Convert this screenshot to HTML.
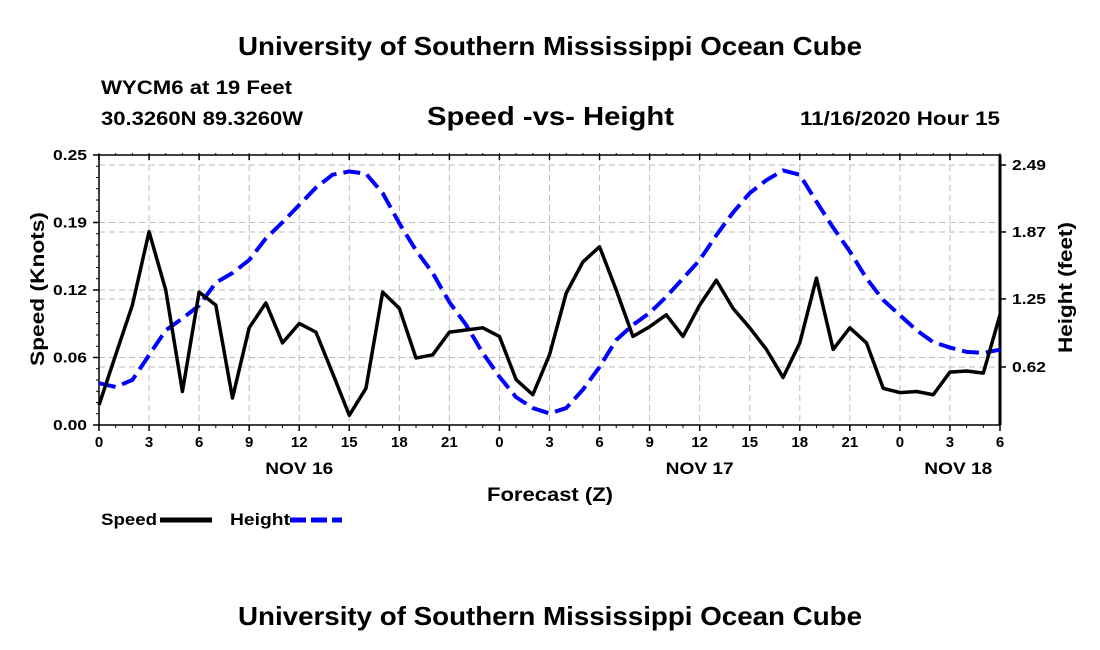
<!DOCTYPE html>
<html><head><meta charset="utf-8"><style>
body{margin:0;background:#fff;}
svg{display:block;font-family:"Liberation Sans",sans-serif;}
</style></head><body>
<svg id="c" width="1100" height="650">
<text x="238" y="55" font-size="26" font-weight="bold" textLength="624" lengthAdjust="spacingAndGlyphs">University of Southern Mississippi Ocean Cube</text>
<text x="101" y="94" font-size="19" font-weight="bold" textLength="191" lengthAdjust="spacingAndGlyphs">WYCM6 at 19 Feet</text>
<text x="101" y="125" font-size="19" font-weight="bold" textLength="202" lengthAdjust="spacingAndGlyphs">30.3260N 89.3260W</text>
<text x="427" y="125" font-size="26" font-weight="bold" textLength="247" lengthAdjust="spacingAndGlyphs">Speed -vs- Height</text>
<text x="800" y="125" font-size="19" font-weight="bold" textLength="200" lengthAdjust="spacingAndGlyphs">11/16/2020 Hour 15</text>
<g id="grid"></g>
<g id="axes"></g>
<g id="series"></g>
<text x="487" y="501" font-size="19" font-weight="bold" textLength="126" lengthAdjust="spacingAndGlyphs">Forecast (Z)</text>
<text transform="translate(44,366) rotate(-90)" font-size="19" font-weight="bold" textLength="154" lengthAdjust="spacingAndGlyphs">Speed (Knots)</text>
<text transform="translate(1072,353) rotate(-90)" font-size="19" font-weight="bold" textLength="131" lengthAdjust="spacingAndGlyphs">Height (feet)</text>
<g>
<text x="101" y="525" font-size="17" font-weight="bold" textLength="56" lengthAdjust="spacingAndGlyphs">Speed</text>
<line x1="160" y1="520" x2="212" y2="520" stroke="#000" stroke-width="5"/>
<text x="230" y="525" font-size="17" font-weight="bold" textLength="60" lengthAdjust="spacingAndGlyphs">Height</text>
<line x1="290" y1="520" x2="342" y2="520" stroke="#00f" stroke-width="5" stroke-dasharray="16,5"/>
</g>
<text x="238" y="625" font-size="26" font-weight="bold" textLength="624" lengthAdjust="spacingAndGlyphs">University of Southern Mississippi Ocean Cube</text>
</svg>
<script>
const speed=[0.0185,0.065,0.111,0.179,0.125,0.031,0.123,0.111,0.025,0.090,0.113,0.076,0.094,0.086,0.048,0.009,0.034,0.123,0.108,0.062,0.065,0.086,0.088,0.090,0.082,0.042,0.028,0.065,0.122,0.151,0.165,0.125,0.082,0.091,0.102,0.082,0.111,0.134,0.108,0.090,0.070,0.044,0.076,0.136,0.070,0.090,0.076,0.034,0.030,0.031,0.028,0.049,0.050,0.048,0.102];
const height=[0.47,0.435,0.50,0.73,0.96,1.07,1.19,1.40,1.49,1.61,1.81,1.96,2.12,2.28,2.40,2.43,2.41,2.23,1.95,1.70,1.49,1.22,1.01,0.75,0.53,0.34,0.24,0.19,0.24,0.41,0.62,0.87,1.01,1.12,1.27,1.44,1.61,1.84,2.05,2.23,2.35,2.44,2.40,2.15,1.91,1.69,1.44,1.24,1.10,0.96,0.85,0.80,0.76,0.75,0.78];
const xTickLabels=["0","3","6","9","12","15","18","21","0","3","6","9","12","15","18","21","0","3","6"];
const dayLabels=["NOV 16","NOV 17","NOV 18"];
const dayHours=[12,36,51.5];
const leftTicks=[0,0.0625,0.125,0.1875,0.25];
const leftTickLabels=["0.00","0.06","0.12","0.19","0.25"];
const rightTicks=[0.62,1.25,1.87,2.49];
const rightTickLabels=["0.62","1.25","1.87","2.49"];
const NS="http://www.w3.org/2000/svg";
const L=99,R=1000,T=155,B=425;
const x=h=>L+(R-L)*h/54;
const yL=v=>B-(B-T)*v/0.25;
const yR=v=>165+(2.49-v)*(367-165)/1.87;
function mk(tag,attrs,parent,txt){const e=document.createElementNS(NS,tag);for(const k in attrs)e.setAttribute(k,attrs[k]);if(txt!==undefined)e.textContent=txt;parent.appendChild(e);return e;}
const grid=document.getElementById('grid'),axes=document.getElementById('axes'),ser=document.getElementById('series');
xTickLabels.forEach((t,i)=>{const px=x(i*3);
 if(i>0&&i<18){const g=mk('line',{x1:px,y1:T,x2:px,y2:B,stroke:'#bbb','stroke-dasharray':'6,4'},grid);
 
 }
 const tk=mk('line',{x1:px,y1:B,x2:px,y2:B+6,stroke:'#000','stroke-width':1.5},axes);
 
 
 mk('line',{x1:px,y1:T,x2:px,y2:T+5,stroke:'#000','stroke-width':1.5},axes);
 const tx=mk('text',{x:px,y:B+22,'text-anchor':'middle','font-size':15,'font-weight':'bold'},axes,t);
 
 });
for(let h=0;h<=54;h++){mk('line',{x1:x(h),y1:B,x2:x(h),y2:B+3,stroke:'#000'},axes);mk('line',{x1:x(h),y1:T,x2:x(h),y2:T-2,stroke:'#000'},axes);}
dayLabels.forEach((d,i)=>{const t=mk('text',{x:x(dayHours[i]),y:B+49,'text-anchor':'middle','font-size':17,'font-weight':'bold',textLength:68,lengthAdjust:'spacingAndGlyphs'},axes,d);
 
 });
leftTicks.forEach((v,i)=>{const py=yL(v);
 if(i>0&&i<4){const g=mk('line',{x1:L,y1:py,x2:R,y2:py,stroke:'#bbb','stroke-dasharray':'6,4'},grid);
 
 }
 mk('line',{x1:L-6,y1:py,x2:L,y2:py,stroke:'#000','stroke-width':1.5},axes);
 const t=mk('text',{x:L-12,y:py+5,'text-anchor':'end','font-size':15,'font-weight':'bold',textLength:34,lengthAdjust:'spacingAndGlyphs'},axes,leftTickLabels[i]);
 
 });
for(let v=0;v<=0.25;v+=0.25/24){mk('line',{x1:L-3,y1:yL(v),x2:L,y2:yL(v),stroke:'#000'},axes);}
rightTicks.forEach((v,i)=>{const py=yR(v);
 const g=mk('line',{x1:L,y1:py,x2:R,y2:py,stroke:'#bbb','stroke-dasharray':'6,4'},grid);
 
 
 mk('line',{x1:R,y1:py,x2:R+6,y2:py,stroke:'#000','stroke-width':1.5},axes);
 const t=mk('text',{x:R+12,y:py+5,'font-size':15,'font-weight':'bold',textLength:34,lengthAdjust:'spacingAndGlyphs'},axes,rightTickLabels[i]);
 
 });
const fr=mk('rect',{x:L,y:T,width:R-L,height:B-T,fill:'none',stroke:'#000','stroke-width':1.5},axes);


mk('line',{x1:R,y1:T,x2:R,y2:B,stroke:'#000','stroke-width':3},axes);
const hp=mk('polyline',{points:height.map((v,i)=>x(i)+','+yR(v)).join(' '),fill:'none',stroke:'#00f','stroke-width':4,'stroke-dasharray':'17,7','stroke-linejoin':'round'},ser);


const sp=mk('polyline',{points:speed.map((v,i)=>x(i)+','+yL(v)).join(' '),fill:'none',stroke:'#000','stroke-width':3.5,'stroke-linejoin':'round'},ser);


</script>
</body></html>
